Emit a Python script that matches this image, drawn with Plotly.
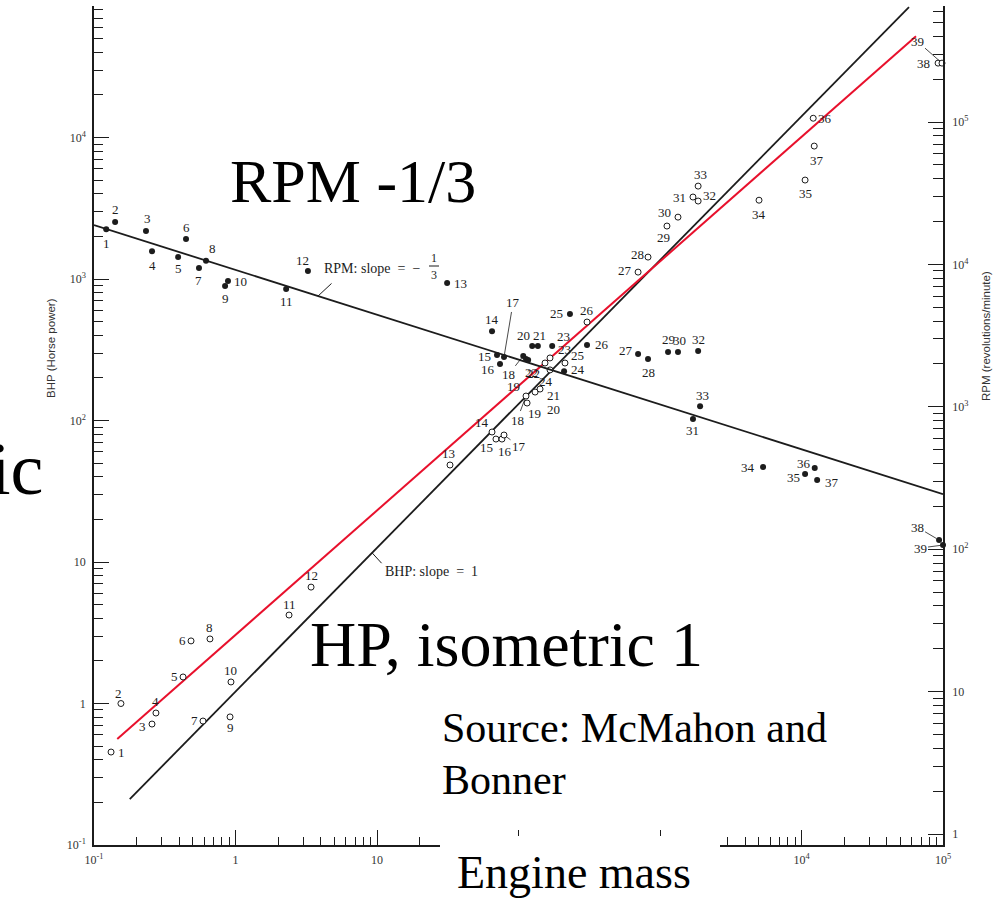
import numpy as np
import plotly.graph_objects as go

# ---------------- data ----------------
engine_numbers = list(range(1, 40))

# open circles: brake horse power (left axis) vs engine mass
bhp_mass = [0.132, 0.155, 0.257, 0.274, 0.426, 0.485, 0.589, 0.660, 0.915, 0.929,
            2.39, 3.42, 32.8, 65.0, 69.3, 76.4, 79.0, 113, 115, 131,
            142, 154, 167, 167, 213, 305, 700, 823, 1120, 1340,
            1710, 1860, 1860, 5010, 10600, 12100, 12300, 92300, 98400]
bhp_values = [0.454, 1.0, 0.716, 0.857, 1.54, 2.77, 0.752, 2.86, 0.804, 1.42,
              4.22, 6.65, 48.5, 83.0, 74.0, 74.0, 79.0, 149, 133, 159,
              167, 255, 277, 228, 255, 497, 1120, 1430, 2370, 2740,
              3800, 3560, 4540, 3610, 5010, 13700, 8710, 33600, 33600]

# filled dots: revolutions per minute (right axis) vs engine mass
rpm_mass = [0.122, 0.141, 0.233, 0.257, 0.393, 0.447, 0.552, 0.619, 0.844, 0.885,
            2.28, 3.25, 31.3, 65.0, 70.5, 74.0, 79.0, 108, 113, 125,
            137, 117, 173, 210, 231, 305, 700, 823, 1140, 1340,
            1710, 1860, 1920, 5350, 10600, 12400, 12900, 93800, 100000]
rpm_values = [17700, 19900, 17200, 12400, 11300, 15100, 9440, 10600, 7050, 7640,
              6720, 9000, 7400, 3400, 2310, 2000, 2240, 2280, 2170, 2670,
              2670, 2130, 2670, 1780, 4490, 2720, 2350, 2170, 2430, 2430,
              820, 2470, 1010, 378, 337, 372, 306, 116, 107]

# fitted lines (end points)
rpm_fit_mass = [0.1, 100000]
rpm_fit_values = [18900, 244]
bhp_fit_mass = [0.179, 57500]
bhp_fit_values = [0.211, 83600]
red_fit_mass = [0.146, 64400]
red_fit_values = [0.561, 52100]

# ticks (10^2 and 10^3 on the mass axis are hidden under the slide's text box)
x_tick_vals = [0.1, 1, 10, 100, 1000, 10000, 100000]
x_tick_text = ["10<sup>-1</sup>", "1", "10", "", "", "10<sup>4</sup>", "10<sup>5</sup>"]
bhp_tick_vals = [0.1, 1, 10, 100, 1000, 10000]
bhp_tick_text = ["10<sup>-1</sup>", "1", "10", "10<sup>2</sup>", "10<sup>3</sup>",
                 "10<sup>4</sup>"]
rpm_tick_vals = [1, 10, 100, 1000, 10000, 100000]
rpm_tick_text = ["1", "10", "10<sup>2</sup>", "10<sup>3</sup>", "10<sup>4</sup>",
                 "10<sup>5</sup>"]

# ---------------- label placement (style) ----------------
rpm_label_offsets = [(0, 14), (0, -12), (2, -12), (0, 14), (0, 12), (0, -11), (0, 12),
                     (6, -12), (0, 12), (13, 0), (0, 12), (-5, -10), (13, 0), (0, -12),
                     (-13, 1), (-12, 6), (9, -54), (-15, 19), (-13, 28), (-9, -11),
                     (2, -11), (5, 13), (11, -10), (14, -2), (-13, 0), (15, 0),
                     (-12, -4), (0, 14), (0, -12), (2, -11), (0, 11), (0, -11),
                     (2, -11), (-15, 0), (-12, 3), (-11, -5), (15, 2), (-22, -13),
                     (-23, 3)]
rpm_leader = {17, 18, 38, 39}
bhp_label_offsets = [(10, 0), (-2, -10), (-10, 2), (0, -12), (-9, 0), (-9, 0), (-8, -1),
                     (0, -11), (0, 11), (0, -11), (0, -11), (0, -12), (-2, -12),
                     (-10, -10), (-9, 8), (3, 12), (15, 11), (-9, 24), (7, 10),
                     (18, 17), (13, 6), (-14, 9), (14, -8), (-4, 12), (13, -8),
                     (0, -12), (-13, -2), (-11, -3), (-3, 11), (-13, -5), (-13, 0),
                     (11, -6), (2, -12), (0, 14), (0, 13), (12, 0), (3, 14),
                     (-15, 0), (-25, -22)]
bhp_leader = {17, 18, 20, 39}

W, H = 1008, 900
ML, MR, MT, MB = 94, 65, 6, 55
PW, PH = W - ML - MR, H - MT - MB


def pxx(x):
    return (x - ML) / PW


def pxy(y):
    return (H - MB - y) / PH


def minor_vals(lo, hi):
    return [m * 10.0 ** e for e in range(lo, hi) for m in range(2, 10)]


INK = "#1c1c1c"
SERIF = "Liberation Serif"

fig = go.Figure()

fig.add_trace(go.Scatter(x=rpm_fit_mass, y=rpm_fit_values, yaxis="y2", mode="lines",
                         line=dict(color=INK, width=1.8), showlegend=False,
                         hoverinfo="skip", cliponaxis=False))
fig.add_trace(go.Scatter(x=bhp_fit_mass, y=bhp_fit_values, mode="lines",
                         line=dict(color=INK, width=1.8), showlegend=False,
                         hoverinfo="skip"))
fig.add_trace(go.Scatter(x=red_fit_mass, y=red_fit_values, mode="lines",
                         line=dict(color="#e8102c", width=2), showlegend=False,
                         hoverinfo="skip"))
fig.add_trace(go.Scatter(x=bhp_mass, y=bhp_values, mode="markers",
                         marker=dict(symbol="circle", size=6, color="white",
                                     line=dict(color=INK, width=1)),
                         showlegend=False, cliponaxis=False, name="BHP"))
fig.add_trace(go.Scatter(x=rpm_mass, y=rpm_values, yaxis="y2", mode="markers",
                         marker=dict(symbol="circle", size=6, color=INK),
                         showlegend=False, cliponaxis=False, name="RPM"))

annotations = []


def add_labels(masses, values, offsets, leaders, yref):
    for n, m, v, (dx, dy) in zip(engine_numbers, masses, values, offsets):
        lead = n in leaders
        annotations.append(dict(
            x=np.log10(m), y=np.log10(v), xref="x", yref=yref, text=str(n),
            showarrow=True, ax=dx, ay=dy, arrowhead=0, arrowwidth=0.8,
            arrowcolor=INK if lead else "rgba(0,0,0,0)", standoff=3 if lead else 0,
            font=dict(family=SERIF, size=13, color=INK)))


add_labels(rpm_mass, rpm_values, rpm_label_offsets, rpm_leader, "y2")
add_labels(bhp_mass, bhp_values, bhp_label_offsets, bhp_leader, "y")


def paper_text(x, y, text, size, family=SERIF, xanchor="left", color=INK, angle=0):
    annotations.append(dict(x=pxx(x), y=pxy(y), xref="paper", yref="paper",
                            text=text, showarrow=False, xanchor=xanchor,
                            yanchor="middle", textangle=angle,
                            font=dict(family=family, size=size, color=color)))


# slope labels with leader lines to the fitted lines
lm = np.log10(3.83)
lr = np.interp(lm, np.log10(rpm_fit_mass), np.log10(rpm_fit_values))
annotations.append(dict(x=lm, y=lr, xref="x", yref="y2", text=" ", showarrow=True,
                        ax=15, ay=-14, arrowhead=0, arrowwidth=1, arrowcolor=INK,
                        standoff=0, font=dict(size=1)))
paper_text(322, 268, "RPM: slope  =  −", 14)
paper_text(434, 258, "1", 12, xanchor="center")
paper_text(434, 275, "3", 12, xanchor="center")

bm = np.log10(9.23)
bv = np.interp(bm, np.log10(bhp_fit_mass), np.log10(bhp_fit_values))
annotations.append(dict(x=bm, y=bv, xref="x", yref="y", text=" ", showarrow=True,
                        ax=11, ay=12, arrowhead=0, arrowwidth=1, arrowcolor=INK,
                        standoff=0, font=dict(size=1)))
paper_text(383, 571, "BHP: slope  =  1", 14)

# axis titles
paper_text(51, 348, "BHP (Horse power)", 11.5, family="Liberation Sans",
           xanchor="center", color="#333", angle=-90)
paper_text(986, 336, "RPM (revolutions/minute)", 11.5, family="Liberation Sans",
           xanchor="center", color="#333", angle=-90)

# slide overlay texts
paper_text(228, 181, "RPM -1/3", 62, color="black")
paper_text(308, 644, "HP, isometric 1", 64, color="black")
paper_text(45, 469, "ic", 74, xanchor="right", color="black")
paper_text(440, 728, "Source: McMahon and", 42, color="black")
paper_text(440, 780, "Bonner", 42, color="black")
paper_text(455, 872, "Engine mass", 46, color="black")

shapes = [
    # white box of the slide covering part of the mass axis
    dict(type="rect", xref="paper", yref="paper", x0=pxx(440), x1=pxx(720),
         y0=pxy(900), y1=pxy(836), fillcolor="white", line=dict(width=0),
         layer="above"),
    # fraction bar of -1/3
    dict(type="line", xref="paper", yref="paper", x0=pxx(429), x1=pxx(439),
         y0=pxy(266), y1=pxy(266), line=dict(color=INK, width=1)),
]

axis_common = dict(type="log", showgrid=False, zeroline=False, showline=True,
                   linecolor=INK, linewidth=1.5, ticks="inside", ticklen=15,
                   tickwidth=1.2, tickcolor=INK, tickmode="array",
                   tickfont=dict(family=SERIF, size=12, color="#333"))

fig.update_layout(
    width=W, height=H, margin=dict(l=ML, r=MR, t=MT, b=MB),
    paper_bgcolor="white", plot_bgcolor="white", showlegend=False,
    xaxis=dict(range=[-1, 5], tickvals=x_tick_vals, ticktext=x_tick_text,
               minor=dict(tickmode="array", tickvals=minor_vals(-1, 5), ticks="inside",
                          ticklen=8, tickwidth=1.1, tickcolor=INK),
               ticklabelstandoff=3, **axis_common),
    yaxis=dict(range=[-1, 4.93], tickvals=bhp_tick_vals, ticktext=bhp_tick_text,
               minor=dict(tickmode="array", tickvals=minor_vals(-1, 5), ticks="inside",
                          ticklen=9, tickwidth=1.1, tickcolor=INK),
               ticklabelstandoff=4, **axis_common),
    yaxis2=dict(range=[-0.077, 5.815], overlaying="y", side="right",
                tickvals=rpm_tick_vals, ticktext=rpm_tick_text,
                minor=dict(tickmode="array", tickvals=minor_vals(0, 6), ticks="inside",
                           ticklen=10, tickwidth=1.1, tickcolor=INK),
                ticklabelstandoff=5, **axis_common),
    annotations=annotations,
    shapes=shapes,
)

fig.write_html("out.html")
